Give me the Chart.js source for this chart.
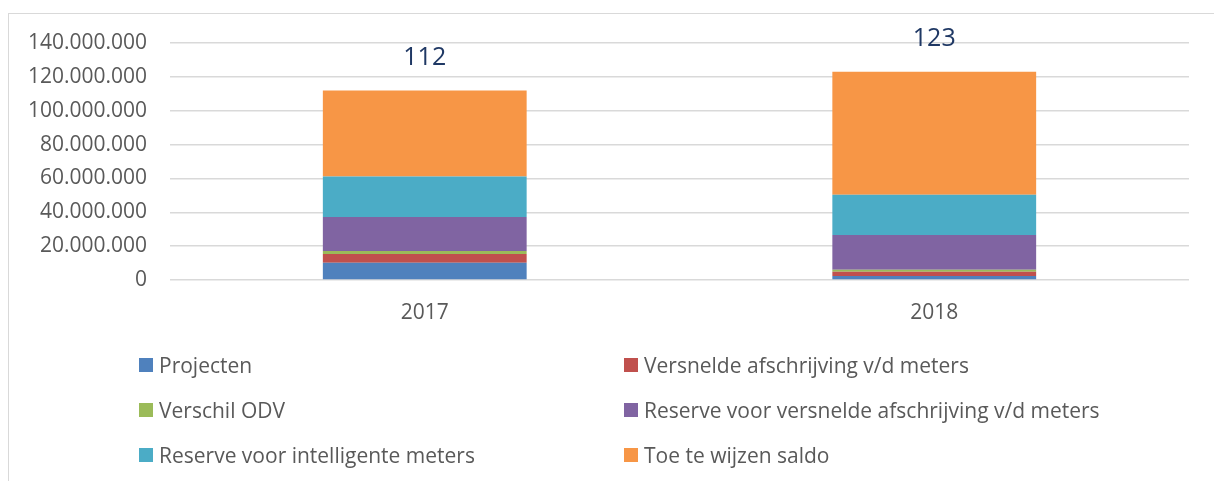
<!DOCTYPE html>
<html>
<head>
<meta charset="utf-8">
<script src="https://cdn.jsdelivr.net/npm/chart.js@4/dist/chart.umd.min.js"></script>
<style>
  body { margin: 0; background: #fff; font-family: "Open Sans", sans-serif; }
  #wrap { position: relative; width: 1214px; height: 481px; overflow: hidden; }
  #frame {
    position: absolute; left: 8px; top: 13px; width: 1220px; height: 480px;
    border-top: 1.5px solid #d9d9d9; border-left: 1.5px solid #d9d9d9;
  }
  canvas { position: absolute; left: 0; top: 0; }
  .legend-item {
    position: absolute; display: flex; align-items: center;
    font-size: 21px; color: #595959; white-space: nowrap; height: 28px;
  }
  .legend-box { width: 14px; height: 14px; margin-right: 6px; }
</style>
</head>
<body>
<div id="wrap">
  <div id="frame"></div>
  <canvas id="chart" width="1214" height="481"></canvas>
  <div id="legend"></div>
</div>
<script>
// Data
const years = ["2017", "2018"];
const seriesNames = [
  "Projecten",
  "Versnelde afschrijving v/d meters",
  "Verschil ODV",
  "Reserve voor versnelde afschrijving v/d meters",
  "Reserve voor intelligente meters",
  "Toe te wijzen saldo"
];
const projecten = [10200000, 2400000];
const versneldeAfschrijving = [5100000, 2400000];
const verschilOdv = [1800000, 1200000];
const reserveVersneld = [20100000, 20600000];
const reserveIntelligent = [24000000, 23700000];
const toeTeWijzen = [50800000, 72700000];
const yTicks = [0, 20000000, 40000000, 60000000, 80000000, 100000000, 120000000, 140000000];

const colors = ["#4f81bd", "#c0504d", "#9bbb59", "#8064a2", "#4bacc6", "#f79646"];
const values = [projecten, versneldeAfschrijving, verschilOdv, reserveVersneld, reserveIntelligent, toeTeWijzen];

function formatDots(v) {
  return String(v).replace(/\B(?=(\d{3})+(?!\d))/g, ".");
}

// total label above each bar (in millions)
const totalsPlugin = {
  id: "totals",
  afterDatasetsDraw(chart) {
    const ctx = chart.ctx;
    const yScale = chart.scales.y;
    const xScale = chart.scales.x;
    ctx.save();
    ctx.font = "25px 'Open Sans'";
    ctx.fillStyle = "#1f3864";
    ctx.textAlign = "center";
    ctx.textBaseline = "middle";
    years.forEach((year, i) => {
      const total = values.reduce((sum, arr) => sum + arr[i], 0);
      const x = xScale.getPixelForValue(i);
      const y = yScale.getPixelForValue(total) - 33;
      ctx.fillText(Math.round(total / 1000000), x, y);
    });
    ctx.restore();
  }
};

const ctx = document.getElementById("chart").getContext("2d");
const chart = new Chart(ctx, {
  type: "bar",
  data: {
    labels: years,
    datasets: seriesNames.map((name, i) => ({
      label: name,
      data: values[i],
      backgroundColor: colors[i],
      borderWidth: 0,
      categoryPercentage: 0.4,
      barPercentage: 1
    }))
  },
  options: {
    responsive: false,
    animation: false,
    layout: { padding: { top: 43, right: 25, bottom: 151, left: 0 } },
    plugins: {
      legend: { display: false },
      tooltip: { enabled: false }
    },
    scales: {
      x: {
        stacked: true,
        grid: { display: false },
        border: { display: false },
        ticks: { color: "#595959", font: { size: 21, family: "Open Sans" }, padding: 12 },
        afterFit(scale) { scale.height = 50; }
      },
      y: {
        stacked: true,
        min: 0,
        max: 140000000,
        afterBuildTicks(scale) { scale.ticks = yTicks.map((v) => ({ value: v })); },
        grid: { color: "#d9d9d9", lineWidth: 1.5, drawTicks: false },
        border: { display: false },
        ticks: {
          color: "#595959",
          font: { size: 21, family: "Open Sans" },
          padding: 23,
          callback: (v) => formatDots(v)
        },
        afterFit(scale) { scale.width = 170; }
      }
    }
  },
  plugins: [totalsPlugin]
});

// HTML legend in two columns
const legendEl = document.getElementById("legend");
const colX = [139, 624];
const rowY = [365, 410, 455];
chart.data.datasets.forEach((ds, i) => {
  const item = document.createElement("div");
  item.className = "legend-item";
  item.style.left = colX[i % 2] + "px";
  item.style.top = rowY[Math.floor(i / 2)] - 14 + "px";
  item.innerHTML = `<span class="legend-box" style="background:${ds.backgroundColor}"></span>${ds.label}`;
  legendEl.appendChild(item);
});
</script>
</body>
</html>
